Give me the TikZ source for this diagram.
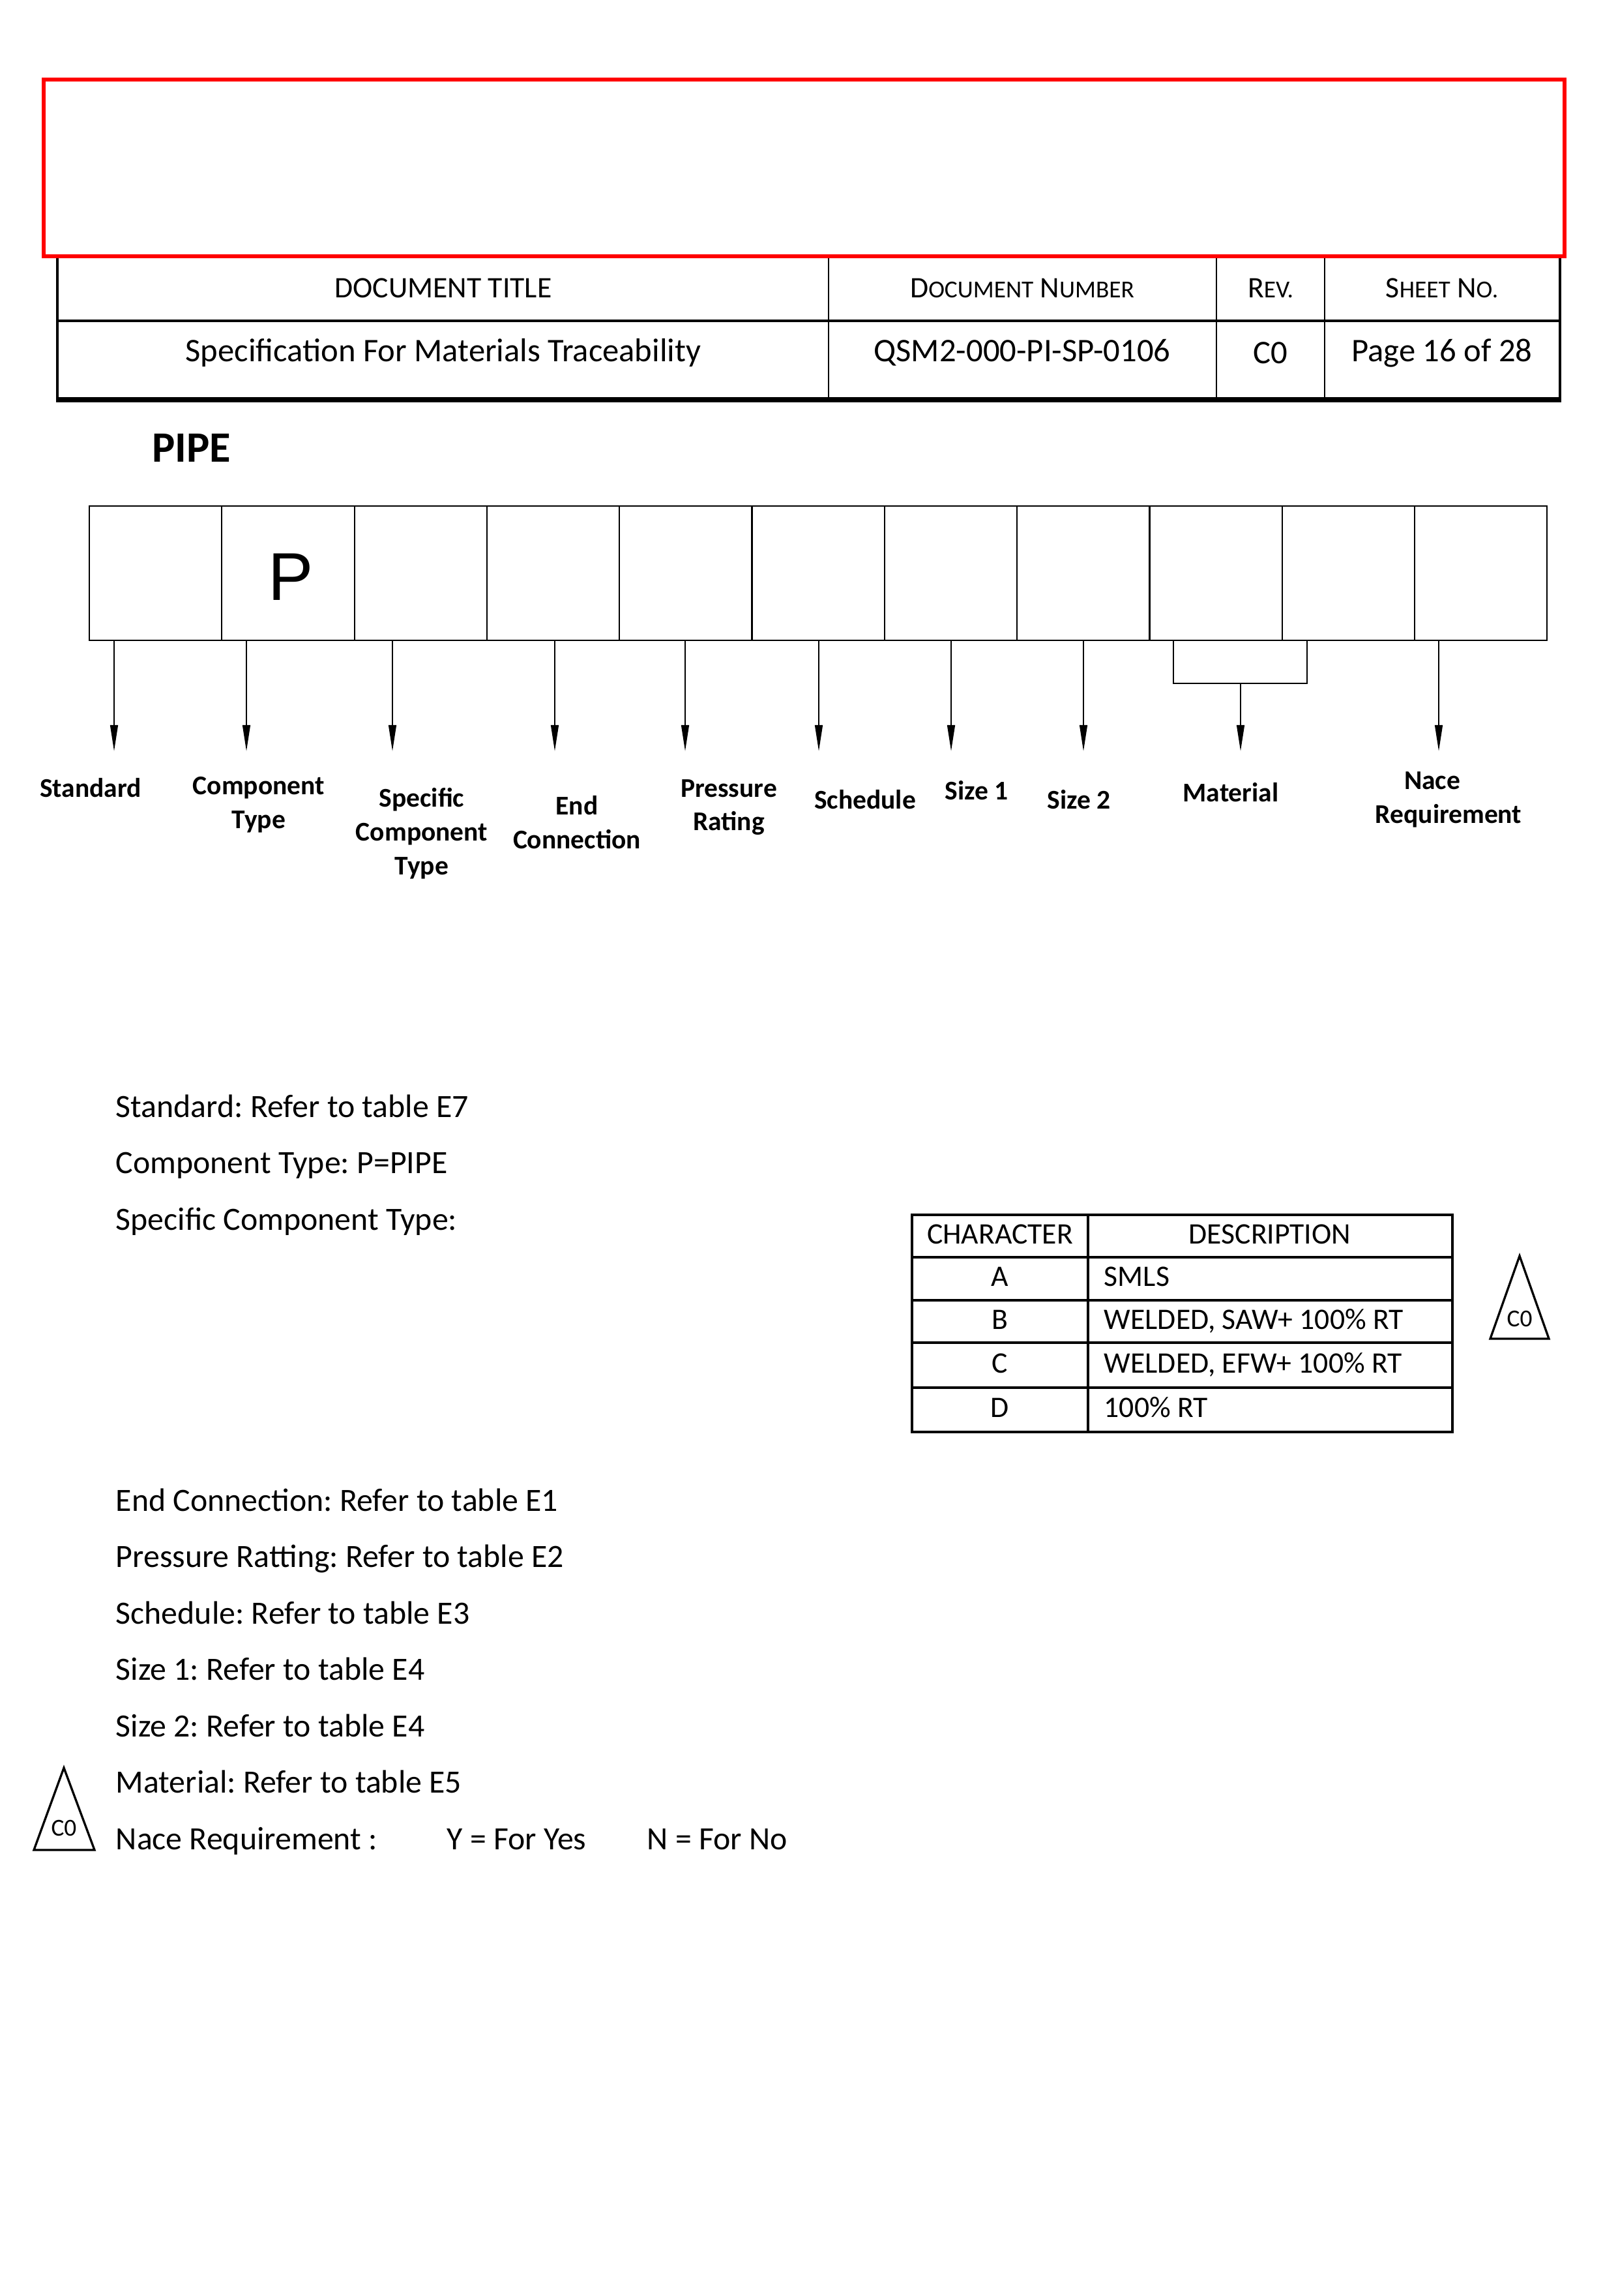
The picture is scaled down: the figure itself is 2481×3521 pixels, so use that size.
\documentclass[tikz,border=0pt]{standalone}
\usepackage{fontspec}
\setmainfont{Carlito}
\newfontfamily\arialfont{Liberation Sans}
\usetikzlibrary{arrows.meta}
\newcommand{\fsc}[2]{{\fontsize{11}{13}\selectfont #1}{\fontsize{9}{11}\selectfont #2}}
\frenchspacing

\begin{document}
\begin{tikzpicture}[x=0.008464cm, y=-0.008464cm, font=\fontsize{12}{14}\selectfont]
  \tikzset{cell/.style={draw, line width=0.5pt, minimum width=1.721cm, minimum height=1.744cm, inner sep=0, outer sep=0},
    lbl/.style={font=\fontsize{10}{12.5}\selectfont\bfseries, align=center},
    arr/.style={line width=0.5pt, -{Triangle[length=3.4mm, width=1mm]}},
    body/.style={anchor=west, inner sep=0, text height=8pt, text depth=2.2pt},
    tbl/.style={inner sep=0, font=\fontsize{11}{13}\selectfont, text height=7.5pt, text depth=2pt},
    hd/.style={font=\fontsize{11}{13}\selectfont},
    hv/.style={font=\fontsize{12.2}{14}\selectfont}}
  \useasboundingbox (0,0) rectangle (2481,3521);
  % title block
  \draw[line width=0.4pt] (1271,393) -- (1271,613) (1866,393) -- (1866,613) (2032,393) -- (2032,613);
  \draw[line width=0.8pt] (88,492) -- (2393,492);
  \draw[line width=1pt] (88,393) -- (88,613) (2393,393) -- (2393,613);
  \draw[line width=2pt] (86,613) -- (2395,613);
  \draw[red, line width=1.5pt] (67,122) rectangle (2400,393);
  \node[hd] (ttl) at (680,442) {DOCUMENT TITLE};
  \node[hd] (num) at (1568,442) {\fsc{D}{OCUMENT} \fsc{N}{UMBER}};
  \node[hd] (rev) at (1949,442) {\fsc{R}{EV.}};
  \node[hd] (sht) at (2212,442) {\fsc{S}{HEET} \fsc{N}{O.}};
  \node[hv] (ttlv) at (680,541) {Specification For Materials Traceability};
  \node[hv] (numv) at (1568,541) {QSM2-000-PI-SP-0106};
  \node[hv] (revv) at (1949,541) {C0};
  \node[hv] (shtv) at (2212,541) {Page 16 of 28};

  \node[font=\fontsize{16}{19}\selectfont\bfseries] (pipe) at (294,687) {PIPE};

  % code boxes
  \foreach \i in {1,...,11}
    \node[cell] (c\i) at ({137+203.3*(\i-0.5)},879) {};
  \node[font=\arialfont\fontsize{25}{30}\selectfont] (p) at (446,885) {P};

  \foreach \n/\x in {1/175, 2/378, 3/602, 4/851, 5/1051, 6/1256, 7/1459, 8/1662, 11/2207} {
    \coordinate (t\n) at (\x,1152);
    \draw[arr] (c\n.south -| t\n) -- (t\n);
  }
  \coordinate (mL) at (1800,1048);
  \coordinate (mR) at (2005,1048);
  \coordinate (t9) at (1903,1152);
  \draw[line width=0.5pt] (c9.south -| mL) -- (mL) -- (mR) -- (c10.south -| mR);
  \draw[arr] (mL -| t9) -- (t9);

  \node[lbl] (standard) at (139,1208) {Standard};
  \node[lbl] (comptype) at (397,1234) {Component\\Type};
  \node[lbl] (spectype) at (647,1278) {Specific\\Component\\Type};
  \node[lbl] (endconn) at (885,1261) {End\\Connection};
  \node[lbl] (pressure) at (1118,1238) {Pressure\\Rating};
  \node[lbl] (schedule) at (1327,1226) {Schedule};
  \node[lbl] (size1) at (1498,1212) {Size 1};
  \node[lbl] (size2) at (1655,1226) {Size 2};
  \node[lbl] (material) at (1888,1215) {Material};
  \node[lbl] (nace) at (2222,1226) {Nace\hspace{1.2em}\null\\Requirement};

  % notes
  \node[body] (l1) at (177,1701) {Standard: Refer to table E7};
  \node[body] (l2) at (177,1787) {Component Type: P=PIPE};
  \node[body] (l3) at (177,1874) {Specific Component Type:};
  \node[body] (l4) at (177,2305) {End Connection: Refer to table E1};
  \node[body] (l5) at (177,2391) {Pressure Ratting: Refer to table E2};
  \node[body] (l6) at (177,2478) {Schedule: Refer to table E3};
  \node[body] (l7) at (177,2564) {Size 1: Refer to table E4};
  \node[body] (l8) at (177,2651) {Size 2: Refer to table E4};
  \node[body] (l9) at (177,2737) {Material: Refer to table E5};
  \node[body] (l10) at (177,2824) {Nace Requirement :};
  \node[body] (yes) at (685,2824) {Y = For Yes};
  \node[body] (no) at (992,2824) {N = For No};

  % table
  \draw[line width=0.8pt] (1399,1863) rectangle (2228,2196);
  \foreach \y in {1928,1994,2059,2128}
    \draw[line width=0.8pt] (1399,\y) -- (2228,\y);
  \draw[line width=0.8pt] (1669,1863) -- (1669,2196);
  \node[tbl] (chr) at (1534,1896) {CHARACTER};
  \node[tbl] (dsc) at (1948,1896) {DESCRIPTION};
  \node[tbl] (ca) at (1534,1961) {A};
  \node[tbl] (cb) at (1534,2027) {B};
  \node[tbl] (cc) at (1534,2094) {C};
  \node[tbl] (cd) at (1534,2162) {D};
  \node[tbl, anchor=west] (da) at (1693,1961) {SMLS};
  \node[tbl, anchor=west] (db) at (1693,2027) {WELDED, SAW+ 100\% RT};
  \node[tbl, anchor=west] (dc) at (1693,2094) {WELDED, EFW+ 100\% RT};
  \node[tbl, anchor=west] (dd) at (1693,2162) {100\% RT};

  % revision marks
  \draw[line width=0.8pt] (2331,1926) -- (2376,2053) -- (2286,2053) -- cycle;
  \node[font=\fontsize{9}{10}\selectfont] (rev1) at (2331,2022) {C0};
  \draw[line width=0.8pt] (98,2711) -- (145,2837) -- (52,2837) -- cycle;
  \node[font=\fontsize{9}{10}\selectfont] (rev2) at (98,2803) {C0};
\end{tikzpicture}
\end{document}
